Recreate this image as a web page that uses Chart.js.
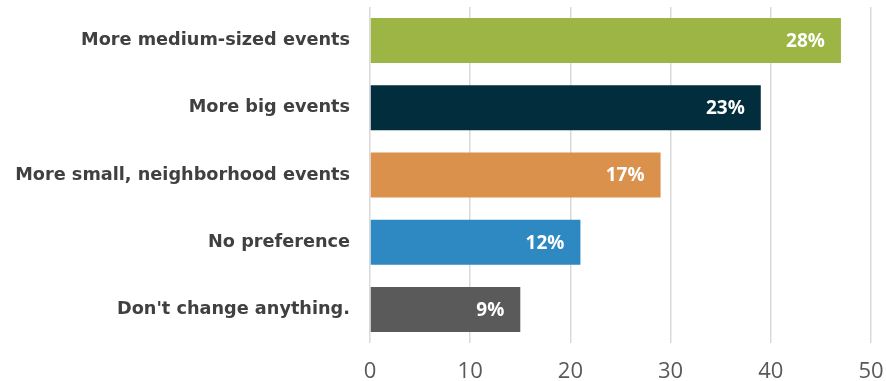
<!DOCTYPE html>
<html>
<head>
<meta charset="utf-8">
<script src="https://cdn.jsdelivr.net/npm/chart.js@4/dist/chart.umd.min.js"></script>
<style>
  html, body { margin: 0; padding: 0; background: #fff; }
  #wrap { width: 886px; height: 381px; }
</style>
</head>
<body>
<div id="wrap"><canvas id="eventsChart" width="886" height="381"></canvas></div>
<script>
const categories = [
  'More medium-sized events',
  'More big events',
  'More small, neighborhood events',
  'No preference',
  "Don't change anything."
];
const counts = [47, 39, 29, 21, 15];
const percentLabels = ['28%', '23%', '17%', '12%', '9%'];
const barColors = ['#9cb544', '#022d3c', '#d9914b', '#2e88c1', '#5a5a5a'];
const xTicks = [0, 10, 20, 30, 40, 50];

// draws the white % labels inside the end of each bar
const barLabels = {
  id: 'barLabels',
  afterDatasetsDraw(chart) {
    const { ctx } = chart;
    const meta = chart.getDatasetMeta(0);
    ctx.save();
    ctx.fillStyle = '#ffffff';
    ctx.font = 'bold 19px "Open Sans"';
    ctx.textAlign = 'right';
    ctx.textBaseline = 'middle';
    meta.data.forEach((bar, i) => {
      ctx.fillText(percentLabels[i], bar.x - 16, bar.y + 1);
    });
    ctx.restore();
  }
};

new Chart(document.getElementById('eventsChart'), {
  type: 'bar',
  data: {
    labels: categories,
    datasets: [{
      data: counts,
      backgroundColor: barColors,
      borderWidth: 0,
      barPercentage: 0.67,
      categoryPercentage: 1
    }]
  },
  options: {
    indexAxis: 'y',
    responsive: false,
    animation: false,
    layout: { padding: { top: 7, right: 15, left: 0, bottom: 0 } },
    plugins: {
      legend: { display: false },
      tooltip: { enabled: false }
    },
    scales: {
      x: {
        min: 0,
        max: 50,
        afterBuildTicks: scale => { scale.ticks = xTicks.map(v => ({ value: v })); },
        afterFit: scale => {
          scale.height = 38;
          scale.paddingLeft = 0;
          scale.paddingRight = 0;
        },
        grid: { color: '#d9d9d9', lineWidth: 1.5, drawTicks: false },
        border: { display: false },
        ticks: {
          padding: 16,
          color: '#595959',
          font: { family: '"Open Sans"', size: 22 }
        }
      },
      y: {
        afterFit: scale => {
          scale.width = 370;
          scale.paddingTop = 0;
          scale.paddingBottom = 0;
        },
        grid: { display: false, drawTicks: false },
        border: { display: false },
        ticks: {
          padding: 20,
          color: '#404040',
          font: { family: '"DejaVu Sans"', size: 17.7, weight: 'bold' }
        }
      }
    }
  },
  plugins: [barLabels]
});
</script>
</body>
</html>
